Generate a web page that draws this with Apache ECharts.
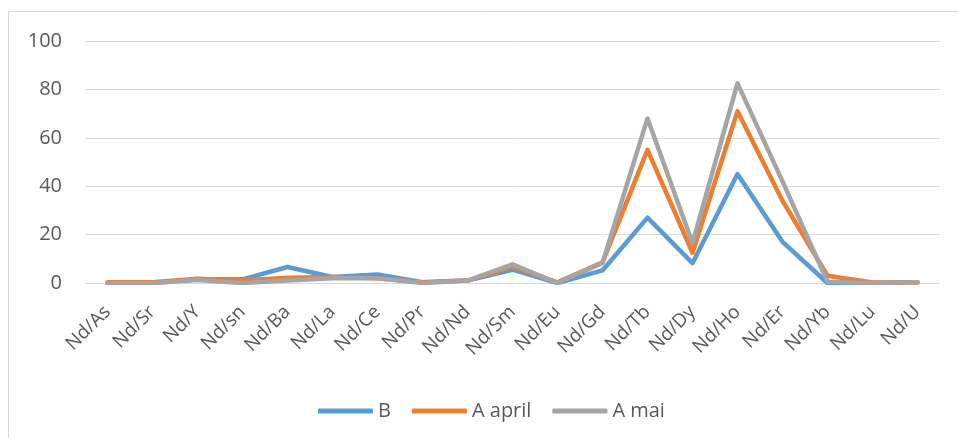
<!DOCTYPE html>
<html>
<head>
<meta charset="utf-8">
<script src="https://cdn.jsdelivr.net/npm/echarts@6/dist/echarts.min.js"></script>
<style>
  html, body { margin: 0; padding: 0; background: #fff; }
  #chart { width: 958px; height: 438px; }
</style>
</head>
<body>
<div id="chart"></div>
<script>
const categories = ['Nd/As', 'Nd/Sr', 'Nd/Y', 'Nd/sn', 'Nd/Ba', 'Nd/La', 'Nd/Ce', 'Nd/Pr', 'Nd/Nd', 'Nd/Sm',
  'Nd/Eu', 'Nd/Gd', 'Nd/Tb', 'Nd/Dy', 'Nd/Ho', 'Nd/Er', 'Nd/Yb', 'Nd/Lu', 'Nd/U'];
const seriesB = [0, 0, 1.5, 1.5, 6.6, 2.5, 3.5, 0.3, 1, 5.5, 0, 5.2, 27, 8.2, 45, 17, 0, 0, 0.3];
const seriesApril = [0.3, 0.3, 1.8, 1, 2.2, 2.5, 2, 0.3, 1, 6.8, 0.3, 8.5, 55, 12.5, 71, 34, 3, 0.2, 0.2];
const seriesMai = [0, 0, 1.2, 0, 1, 2, 2, 0, 1, 7.7, 0, 8.3, 68, 16.5, 82.5, 42, 0.5, 0, 0.3];
const yTicks = { min: 0, max: 100, interval: 20 };

const font = 'Open Sans';
const chart = echarts.init(document.getElementById('chart'));

function lineSeries(name, data, color) {
  return {
    name: name,
    type: 'line',
    data: data,
    symbol: 'none',
    lineStyle: { width: 4.5, color: color, cap: 'round', join: 'round' },
    itemStyle: { color: color },
    emphasis: { disabled: true },
    animation: false
  };
}

chart.setOption({
  backgroundColor: '#fff',
  textStyle: { fontFamily: font },
  graphic: [{
    type: 'rect',
    shape: { x: 8.5, y: 11.5, width: 960, height: 440 },
    style: { fill: 'none', stroke: '#d9d9d9', lineWidth: 1 },
    silent: true
  }],
  grid: { left: 85, right: 18, top: 41, bottom: 155 },
  legend: {
    left: 313,
    top: 396,
    icon: 'roundRect',
    itemWidth: 55,
    itemHeight: 5,
    itemGap: 21,
    textStyle: { fontSize: 20, color: '#595959', fontFamily: font },
    data: ['B', 'A april', 'A mai']
  },
  xAxis: {
    type: 'category',
    data: categories,
    boundaryGap: true,
    axisLine: { show: false },
    axisTick: { show: false },
    axisLabel: { rotate: 45, interval: 0, fontSize: 19, color: '#595959', margin: 26 }
  },
  yAxis: {
    type: 'value',
    min: yTicks.min,
    max: yTicks.max,
    interval: yTicks.interval,
    axisLine: { show: false },
    axisTick: { show: false },
    axisLabel: { fontSize: 20, color: '#595959', margin: 23 },
    splitLine: { lineStyle: { color: '#d9d9d9', width: 1 } }
  },
  series: [
    lineSeries('B', seriesB, '#5b9bd5'),
    lineSeries('A april', seriesApril, '#ed7d31'),
    lineSeries('A mai', seriesMai, '#a5a5a5')
  ]
});
</script>
</body>
</html>
